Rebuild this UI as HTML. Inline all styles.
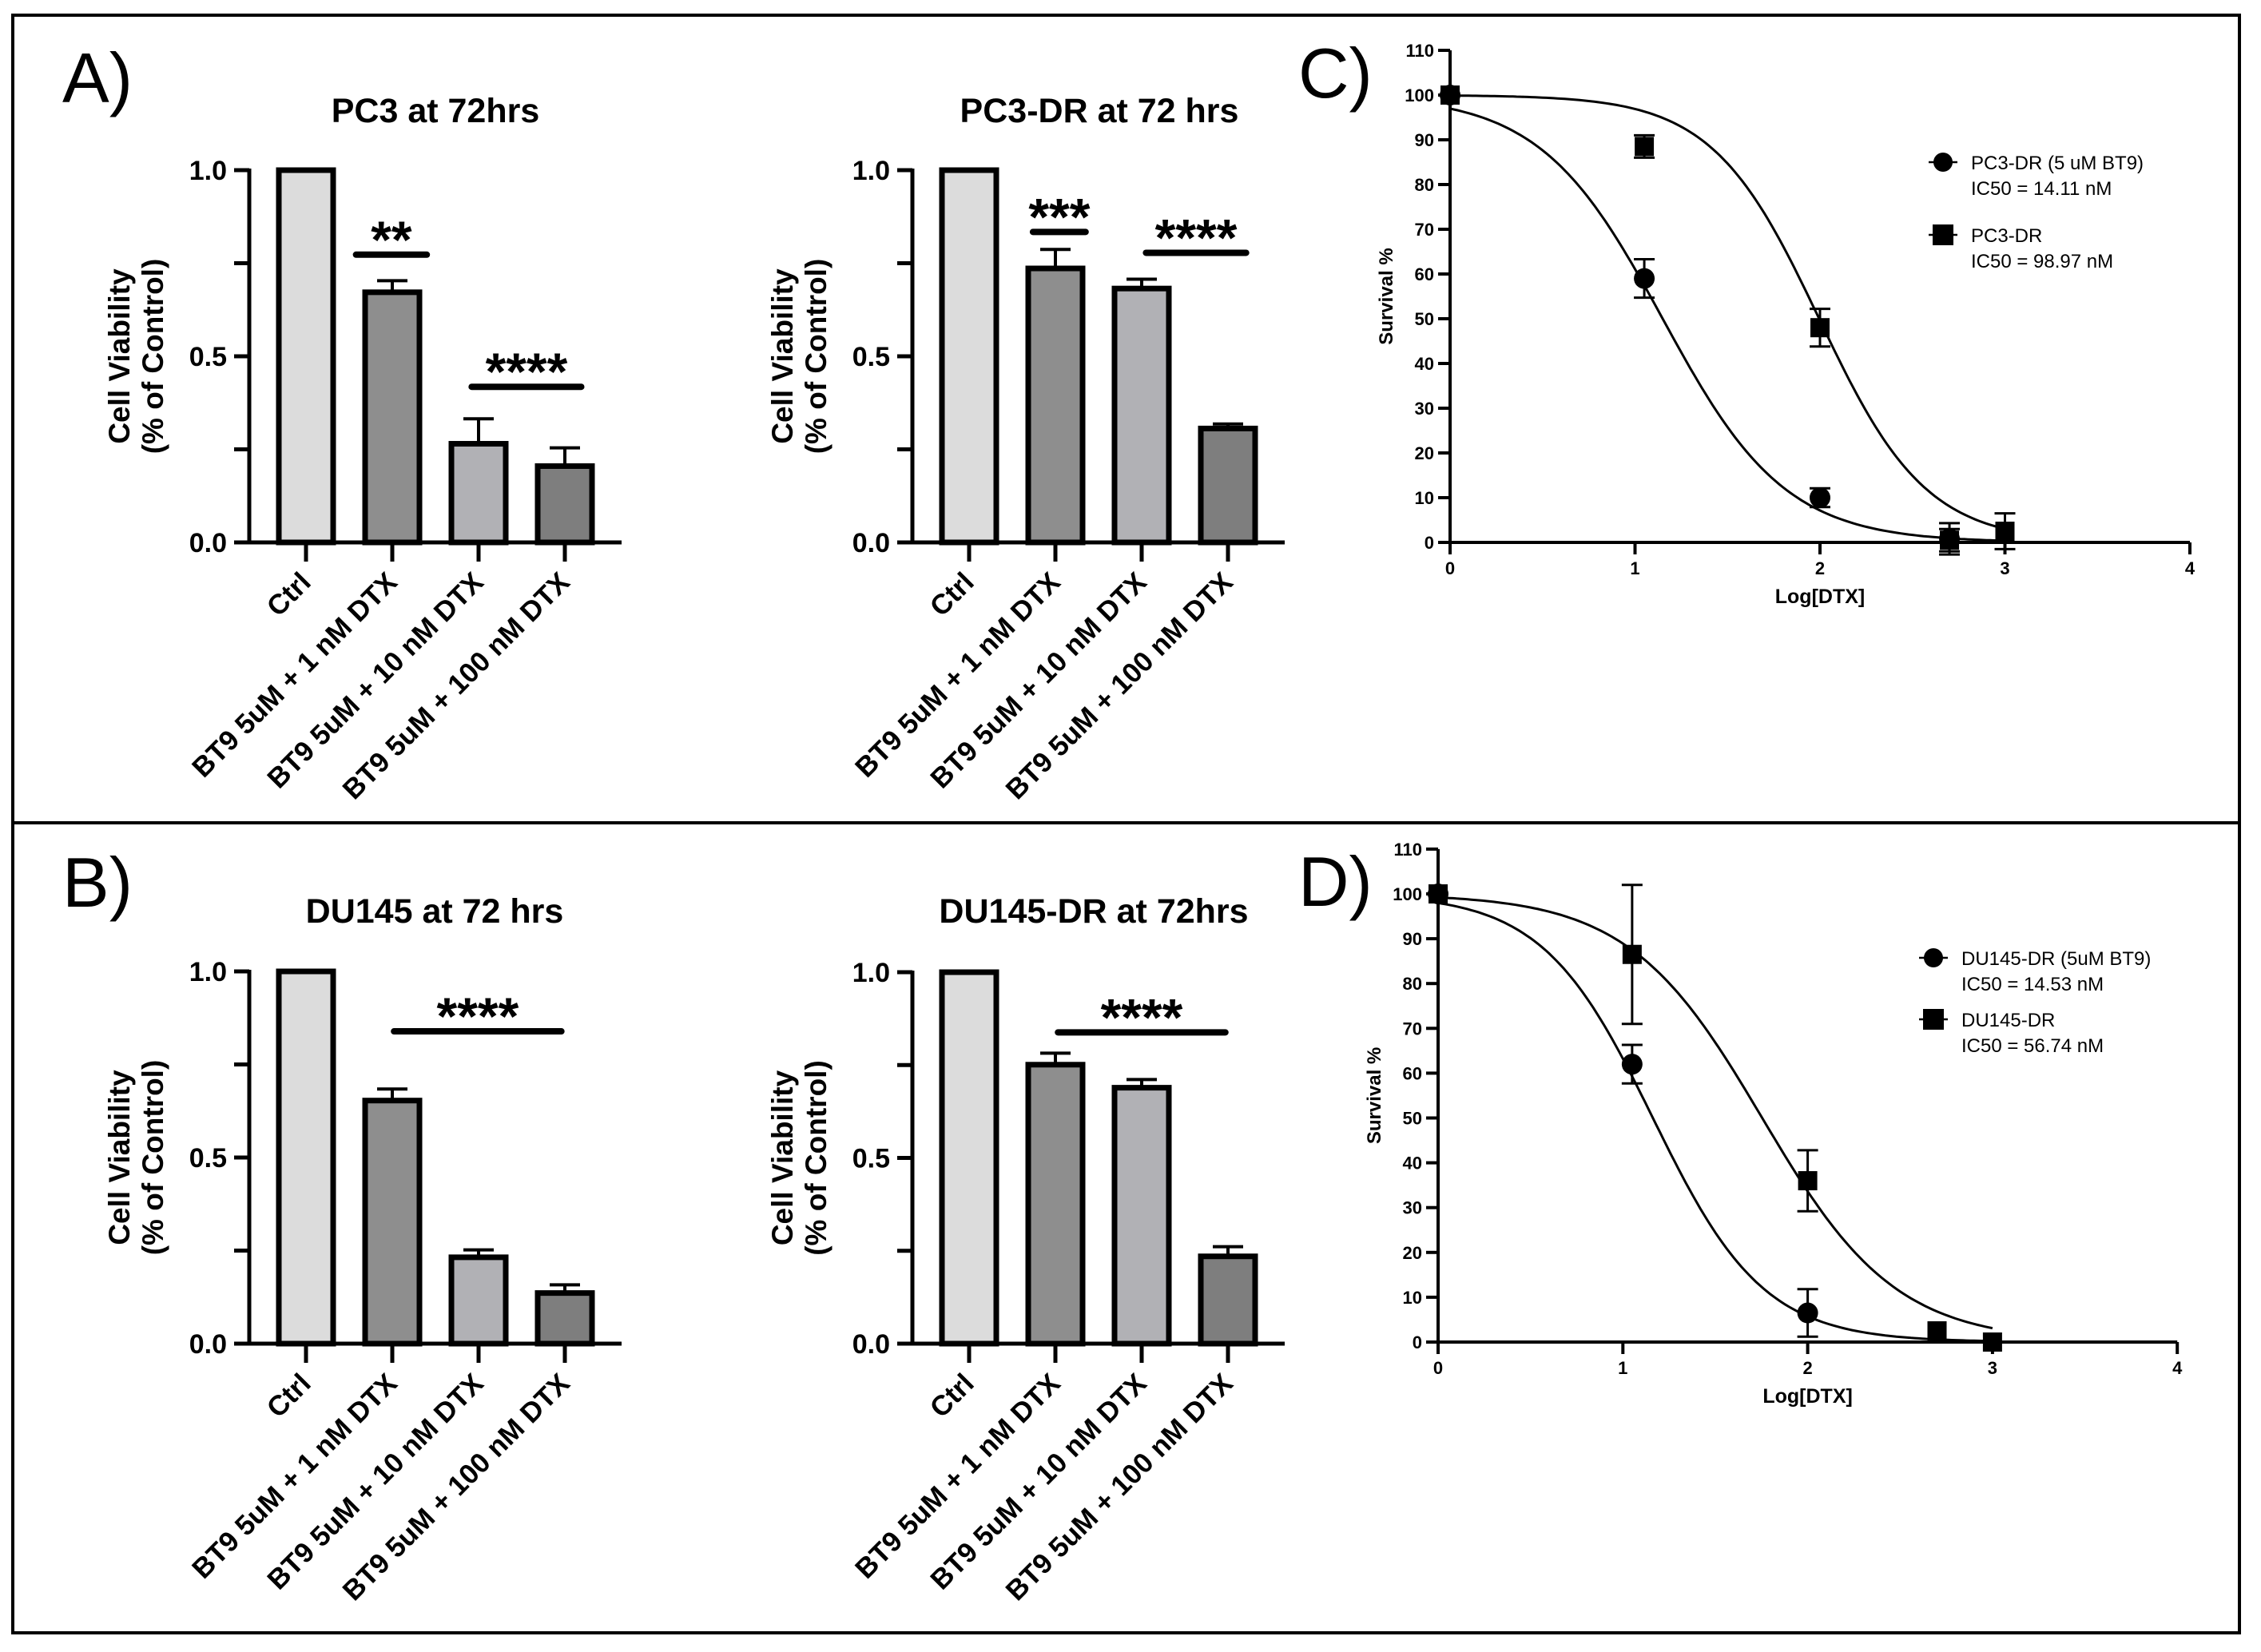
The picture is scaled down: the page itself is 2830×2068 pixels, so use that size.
<!DOCTYPE html>
<html><head><meta charset="utf-8"><style>
html,body{margin:0;padding:0;background:#fff}
svg{display:block}
text{font-family:"Liberation Sans",Arial,sans-serif;fill:#000}
</style></head><body>
<svg id="fig" width="2830" height="2068" viewBox="0 0 2830 2068" xmlns="http://www.w3.org/2000/svg">
<rect x="16" y="19" width="2787" height="2025" fill="none" stroke="#000" stroke-width="4"/>
<line x1="16" y1="1030" x2="2803" y2="1030" stroke="#000" stroke-width="4"/>
<text x="78" y="128" font-size="88">A)</text>
<text x="78" y="1135" font-size="88">B)</text>
<text x="1625" y="122" font-size="88">C)</text>
<text x="1625" y="1134" font-size="88">D)</text>
<g id="charts"></g>
</svg>
<script>
// ---- bar chart data ----
const barCategories = ["Ctrl","BT9 5uM + 1 nM DTX","BT9 5uM + 10 nM DTX","BT9 5uM + 100 nM DTX"];
const yTicks = [0, 0.25, 0.5, 0.75, 1.0];
const yTickLabels = ["0.0", "", "0.5", "", "1.0"];
const pc3Values = [1.0, 0.672, 0.265, 0.205];
const pc3Errors = [0, 0.031, 0.067, 0.049];
const pc3drValues = [1.0, 0.736, 0.682, 0.306];
const pc3drErrors = [0, 0.051, 0.025, 0.012];
const du145Values = [1.0, 0.653, 0.232, 0.136];
const du145Errors = [0, 0.031, 0.020, 0.022];
const du145drValues = [1.0, 0.751, 0.689, 0.235];
const du145drErrors = [0, 0.031, 0.022, 0.026];
// significance: [start (category units), end (category units), y value, label]
const pc3Sig = [[0.58, 1.40, 0.773, "**"], [1.92, 3.19, 0.418, "****"]];
const pc3drSig = [[0.74, 1.35, 0.834, "***"], [2.05, 3.21, 0.778, "****"]];
const du145Sig = [[1.02, 2.96, 0.839, "****"]];
const du145drSig = [[1.03, 2.97, 0.838, "****"]];
const barFills = ["#dcdcdc", "#8e8e8e", "#b1b1b5", "#7e7e7e"];

// ---- dose response data ----
const doseTicks = [0, 1, 2, 3, 4];
const survTicks = [0,10,20,30,40,50,60,70,80,90,100,110];
const cCircleX = [0, 1.05, 2.0, 2.7];
const cCircleY = [100, 59, 10, 0.8];
const cCircleErr = [0, 4.3, 2.1, 3.5];
const cSquareX = [0, 1.05, 2.0, 2.7, 3.0];
const cSquareY = [100, 88.5, 48, 0.5, 2.5];
const cSquareErr = [0, 2.5, 4.2, 2.5, 4.0];
const cLogIC50 = [Math.log10(14.11), Math.log10(98.97)];
const cHill = [1.31, 1.5];
const cTop = [100, 100];
const dCircleX = [0, 1.05, 2.0];
const dCircleY = [100, 62, 6.5];
const dCircleErr = [0, 4.3, 5.3];
const dSquareX = [0, 1.05, 2.0, 2.7, 3.0];
const dSquareY = [100, 86.5, 36, 2.5, 0];
const dSquareErr = [0, 15.5, 6.8, 0, 0];
const dLogIC50 = [Math.log10(14.53), Math.log10(56.74)];
const dHill = [1.45, 1.2];
const dTop = [100, 100];

const NS = "http://www.w3.org/2000/svg";
const root = document.getElementById("charts");
function mk(tag, attrs, parent, txt) {
  const e = document.createElementNS(NS, tag);
  for (const k in attrs) e.setAttribute(k, attrs[k]);
  if (txt !== undefined) e.textContent = txt;
  (parent || root).appendChild(e);
  return e;
}

function barChart(cfg) {
  const g = mk("g", {});
  
  
  const yS = v => cfg.y0 - v * (cfg.y0 - cfg.y1);
  const xS = i => cfg.ax + 71 + i * 108;
  const t = mk("text", {x: cfg.tx, y: cfg.ty, "font-size": 43, "font-weight": "bold", "text-anchor": "middle"}, g, cfg.title);
  
  
  const yt = mk("text", {transform: `translate(${cfg.ax-150},${(cfg.y0+cfg.y1)/2}) rotate(-90)`, "font-size": 37, "font-weight": "bold", "text-anchor": "middle"}, g);
  
  
  mk("tspan", {x: 0, dy: 0}, yt, "Cell Viability");
  mk("tspan", {x: 0, dy: 42}, yt, "(% of Control)");
  cfg.values.forEach((v, i) => {
    const cx = xS(i);
    const r = mk("rect", {x: cx - 34, y: yS(v), width: 68, height: yS(0) - yS(v), fill: barFills[i], stroke: "#000", "stroke-width": 7}, g);
    
    
    if (cfg.errors[i] > 0) {
      const ey = yS(v + cfg.errors[i]);
      const e = mk("path", {d: `M${cx} ${yS(v)-3}V${ey}M${cx-19} ${ey}H${cx+19}`, stroke: "#000", "stroke-width": 4, fill: "none"}, g);
      
      
    }
  });
  const ya = mk("line", {x1: cfg.ax, y1: yS(1) - 2, x2: cfg.ax, y2: yS(0), stroke: "#000", "stroke-width": 5}, g);
  
  
  const xa = mk("line", {x1: cfg.ax - 19, y1: yS(0), x2: cfg.ax + 466, y2: yS(0), stroke: "#000", "stroke-width": 5}, g);
  
  
  yTicks.forEach((v, i) => {
    mk("line", {x1: cfg.ax - 19, y1: yS(v), x2: cfg.ax, y2: yS(v), stroke: "#000", "stroke-width": 5}, g);
    if (yTickLabels[i]) {
      const l = mk("text", {x: cfg.ax - 28, y: yS(v) + 12, "font-size": 34, "font-weight": "bold", "text-anchor": "end"}, g, yTickLabels[i]);
      
      
    }
  });
  barCategories.forEach((c, i) => {
    const cx = xS(i);
    mk("line", {x1: cx, y1: yS(0), x2: cx, y2: yS(0) + 24, stroke: "#000", "stroke-width": 5}, g);
    const l = mk("text", {transform: `translate(${cx+8},${yS(0)+52}) rotate(-45)`, "font-size": 35, "font-weight": "bold", "text-anchor": "end"}, g, c);
    
    
  });
  cfg.sig.forEach(s => {
    const x1 = xS(s[0]), x2 = xS(s[1]);
    const y = yS(s[2]);
    const ln = mk("line", {x1, y1: y, x2, y2: y, stroke: "#000", "stroke-width": 8, "stroke-linecap": "round"}, g);
    
    
    const st = mk("text", {x: (x1 + x2) / 2, y: y + 4, "font-size": 66, "font-weight": "bold", "text-anchor": "middle"}, g, s[3]);
    
    
  });
}

barChart({name: "pc3-bar-chart", title: "PC3 at 72hrs", tx: 545, ty: 153, ax: 312, y0: 679, y1: 213, values: pc3Values, errors: pc3Errors, sig: pc3Sig});
barChart({name: "pc3dr-bar-chart", title: "PC3-DR at 72 hrs", tx: 1376, ty: 153, ax: 1142, y0: 679, y1: 213, values: pc3drValues, errors: pc3drErrors, sig: pc3drSig});
barChart({name: "du145-bar-chart", title: "DU145 at 72 hrs", tx: 544, ty: 1155, ax: 312, y0: 1682, y1: 1216, values: du145Values, errors: du145Errors, sig: du145Sig});
barChart({name: "du145dr-bar-chart", title: "DU145-DR at 72hrs", tx: 1369, ty: 1155, ax: 1142, y0: 1682, y1: 1217, values: du145drValues, errors: du145drErrors, sig: du145drSig});

function doseChart(cfg) {
  const g = mk("g", {});
  
  
  const xS = v => cfg.ax + v * cfg.ux;
  const yS = v => cfg.y0 - v * cfg.uy;
  for (let s = 0; s < 2; s++) {
    let d = "";
    for (let k = 0; k <= 150; k++) {
      const x = 3 * k / 150;
      const y = cfg.top[s] / (1 + Math.pow(10, (x - cfg.logIC50[s]) * cfg.hill[s]));
      d += (k ? "L" : "M") + xS(x).toFixed(1) + " " + yS(y).toFixed(1);
    }
    const p = mk("path", {d, fill: "none", stroke: "#000", "stroke-width": 3}, g);
    
    
  }
  const ya = mk("line", {x1: xS(0), y1: yS(110), x2: xS(0), y2: yS(0), stroke: "#000", "stroke-width": 4}, g);
  
  
  const xa = mk("line", {x1: xS(0), y1: yS(0), x2: xS(4), y2: yS(0), stroke: "#000", "stroke-width": 4}, g);
  
  
  survTicks.forEach(v => {
    mk("line", {x1: xS(0) - 15, y1: yS(v), x2: xS(0), y2: yS(v), stroke: "#000", "stroke-width": 4}, g);
    const l = mk("text", {x: xS(0) - 20, y: yS(v) + 8, "font-size": 22, "font-weight": "bold", "text-anchor": "end"}, g, String(v));
    
    
  });
  doseTicks.forEach(v => {
    mk("line", {x1: xS(v), y1: yS(0), x2: xS(v), y2: yS(0) + 15, stroke: "#000", "stroke-width": 4}, g);
    const l = mk("text", {x: xS(v), y: yS(0) + 40, "font-size": 22, "font-weight": "bold", "text-anchor": "middle"}, g, String(v));
    
    
  });
  const xt = mk("text", {x: xS(2), y: yS(0) + 76, "font-size": 25, "font-weight": "bold", "text-anchor": "middle"}, g, "Log[DTX]");
  
  
  const yt = mk("text", {transform: `translate(${xS(0)-72},${yS(55)}) rotate(-90)`, "font-size": 24, "font-weight": "bold", "text-anchor": "middle"}, g, "Survival %");
  
  
  function errBar(x, y, e) {
    if (e <= 0) return;
    const eb = mk("path", {d: `M${xS(x)} ${yS(y+e)}V${yS(y-e)}M${xS(x)-13} ${yS(y+e)}H${xS(x)+13}M${xS(x)-13} ${yS(y-e)}H${xS(x)+13}`, stroke: "#000", "stroke-width": 3, fill: "none"}, g);
    
    
  }
  cfg.cx.forEach((x, i) => {
    errBar(x, cfg.cy[i], cfg.ce[i]);
    const c = mk("circle", {cx: xS(x), cy: yS(cfg.cy[i]), r: 13, fill: "#000"}, g);
    
    
  });
  cfg.sx.forEach((x, i) => {
    errBar(x, cfg.sy[i], cfg.se[i]);
    const r = mk("rect", {x: xS(x) - 12, y: yS(cfg.sy[i]) - 12, width: 24, height: 24, fill: "#000"}, g);
    
    
  });
  const lg = mk("g", {}, g);
  
  
  const L = cfg.leg;
  mk("line", {x1: L.mx - 18, y1: L.y1, x2: L.mx + 18, y2: L.y1, stroke: "#000", "stroke-width": 2.5}, lg);
  mk("circle", {cx: L.mx, cy: L.y1, r: 12, fill: "#000"}, lg);
  mk("text", {x: L.tx, y: L.y1 + 9, "font-size": 24}, lg, L.t1);
  mk("text", {x: L.tx, y: L.y1 + 41, "font-size": 24}, lg, L.t2);
  mk("line", {x1: L.mx - 18, y1: L.y2, x2: L.mx + 18, y2: L.y2, stroke: "#000", "stroke-width": 2.5}, lg);
  mk("rect", {x: L.mx - 13, y: L.y2 - 13, width: 26, height: 26, fill: "#000"}, lg);
  mk("text", {x: L.tx, y: L.y2 + 9, "font-size": 24}, lg, L.t3);
  mk("text", {x: L.tx, y: L.y2 + 41, "font-size": 24}, lg, L.t4);
}

doseChart({name: "pc3dr-dose-response", ax: 1815, ux: 231.5, y0: 679, uy: 5.6,
  cx: cCircleX, cy: cCircleY, ce: cCircleErr, sx: cSquareX, sy: cSquareY, se: cSquareErr,
  logIC50: cLogIC50, hill: cHill, top: cTop,
  leg: {mx: 2432, tx: 2467, y1: 203, y2: 294, t1: "PC3-DR (5 uM BT9)", t2: "IC50 = 14.11 nM", t3: "PC3-DR", t4: "IC50 = 98.97 nM"}});
doseChart({name: "du145dr-dose-response", ax: 1800, ux: 231.3, y0: 1680, uy: 5.61,
  cx: dCircleX, cy: dCircleY, ce: dCircleErr, sx: dSquareX, sy: dSquareY, se: dSquareErr,
  logIC50: dLogIC50, hill: dHill, top: dTop,
  leg: {mx: 2420, tx: 2455, y1: 1199, y2: 1276, t1: "DU145-DR (5uM BT9)", t2: "IC50 = 14.53 nM", t3: "DU145-DR", t4: "IC50 = 56.74 nM"}});
</script>
</body></html>
